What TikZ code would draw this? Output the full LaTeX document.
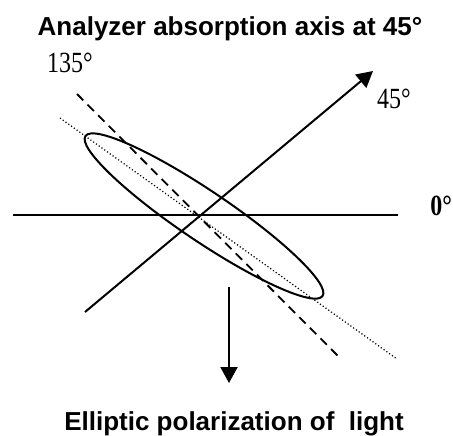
\documentclass[tikz,border=0pt]{standalone}
\usepackage{fontspec}
\setmainfont{Liberation Serif}
\setsansfont{Liberation Sans}
\usetikzlibrary{positioning,calc,arrows.meta}

\newcommand{\tallnum}[1]{\scalebox{1}[1.22]{#1}}

\begin{document}
\begin{tikzpicture}[x=0.5pt, y=0.5pt,
    heading/.style={font=\sffamily\bfseries\fontsize{13}{15}\selectfont, inner sep=0pt, anchor=base},
    angle/.style={font=\fontsize{12}{14}\selectfont, inner sep=0pt, anchor=base},
    axis/.style={line width=1pt},
    arrow/.style={line width=1pt, -{Triangle[length=8pt, width=8.5pt]}},
    dashaxis/.style={line width=0.9pt, dash pattern=on 4.5pt off 3pt},
    dotaxis/.style={line width=0.6pt, dash pattern=on 0.6pt off 1.1pt}
  ]
    \useasboundingbox (0,0) rectangle (453,-435);
    % labels
    \node[heading] (title) at (230,-35) {Analyzer absorption axis at 45°};
    \node[heading] (result) at (234,-430) {Elliptic polarization of \ light};
    \node[angle] (L135) at (70,-72) {\tallnum{135°}};
    \node[angle] (L45) at (394,-108) {\tallnum{45°}};
    \node[angle, font=\bfseries\fontsize{12}{14}\selectfont, anchor=base west] (L0) at (430,-215) {\tallnum{0°}};
    % axes
    \coordinate (O) at (199,-216);
    \coordinate (h1) at (13,-215);
    \coordinate (h2) at (398,-215);
    \coordinate (a1) at (85,-312);
    \coordinate (a2) at (373,-71);
    \coordinate (d1) at (77,-94);
    \coordinate (d2) at (339,-357);
    \coordinate (p1) at (60,-118);
    \coordinate (p2) at (397,-359);
    \draw[axis] (h1) -- (h2);
    \draw[arrow] (a1) -- (a2);
    \draw[dashaxis] (d1) -- (d2);
    \draw[dotaxis] (p1) -- (p2);
    % polarization ellipse
    \draw[axis, rotate around={-34:(204,-216)}] (204,-216) ellipse [x radius=143, y radius=25];
    % output
    \coordinate (v1) at (229,-287);
    \coordinate (v2) at (229,-383);
    \draw[arrow] (v1) -- (v2);
\end{tikzpicture}
\end{document}
